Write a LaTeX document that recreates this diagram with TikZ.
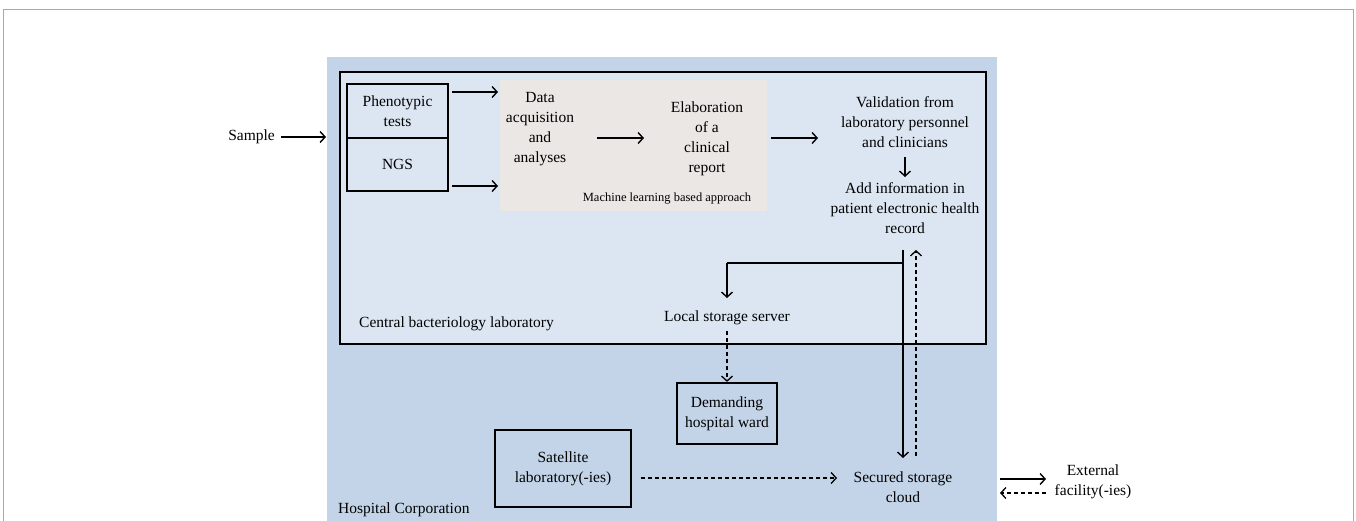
\documentclass[tikz,border=0pt]{standalone}
\usepackage{fontspec}
\setmainfont{Liberation Serif}
\usetikzlibrary{arrows.meta}
\definecolor{hospblue}{HTML}{C3D4E8}
\definecolor{labblue}{HTML}{DCE6F2}
\definecolor{mlgray}{HTML}{EBE7E4}
\definecolor{framegray}{HTML}{A8A8A8}
\begin{document}
\begin{tikzpicture}[x=1pt,y=-1pt,
  font=\fontsize{15.5}{20}\selectfont,
  arr/.style={-{Straight Barb[length=5pt,width=11pt,line width=1.4pt]}, line width=1.4pt},
  darr/.style={-{Straight Barb[length=5pt,width=11pt,line width=1.3pt]}, line width=1.2pt, dash pattern=on 4pt off 3pt},
  txt/.style={align=center, inner sep=0pt},
  thickbox/.style={draw, line width=2.2pt, inner sep=0pt, align=center}]
\useasboundingbox (0,0) rectangle (1356,521);
% outer frame
\draw[framegray, line width=1pt] (3,521) -- (3,10) -- (1353,10) -- (1353,521);
% hospital corporation area
\fill[hospblue] (327,57) rectangle (997,521);
\node[txt, anchor=west] (hosp) at (338,510) {Hospital Corporation};
% central lab
\node[thickbox, fill=labblue, minimum width=646pt, minimum height=272pt] (lab) at (663,208) {};
\node[txt, anchor=west] (central) at (359,324) {Central bacteriology laboratory};
% ML box
\node[fill=mlgray, inner sep=0pt, minimum width=267pt, minimum height=131pt] (ml) at (633.5,145.5) {};
\node[txt, font=\fontsize{12.5}{15}\selectfont] (mltxt) at (667,199) {Machine learning based approach};
% phenotypic and NGS
\node[thickbox, minimum width=101pt, minimum height=54pt] (pheno) at (397.5,111) {Phenotypic\\tests};
\node[thickbox, minimum width=101pt, minimum height=53pt] (ngs) at (397.5,164.5) {NGS};
% sample
\node[txt, anchor=east] (sample) at (275,137) {Sample};
\coordinate (labin) at (326,137);
\draw[arr] (sample.east) ++(6pt,0) -- (labin);
% arrows into ML
\coordinate (p1) at (452,92);
\coordinate (p2) at (498,92);
\coordinate (n1) at (452,186);
\coordinate (n2) at (498,186);
\draw[arr] (p1) -- (p2);
\draw[arr] (n1) -- (n2);
% texts in ML
\node[txt] (data) at (540,129) {Data\\acquisition\\and\\analyses};
\node[txt] (elab) at (707,139) {Elaboration\\of a\\clinical\\report};
\coordinate (a1) at (597,138);
\coordinate (a2) at (644,138);
\draw[arr] (a1) -- (a2);
\coordinate (b1) at (771,138);
\coordinate (b2) at (818,138);
\draw[arr] (b1) -- (b2);
% validation
\node[txt] (valid) at (905,122) {Validation from\\laboratory personnel\\and clinicians};
\node[txt] (ehr) at (905,208) {Add information in\\patient electronic health\\record};
\coordinate (v1) at (905,157);
\coordinate (v2) at (905,177);
\draw[arr] (v1) -- (v2);
% local storage
\node[txt] (lss) at (727,318) {Local storage server};
\coordinate (ehrbot) at (903,250);
\coordinate (branch) at (903,263);
\coordinate (lsstop) at (727,298);
\draw[line width=1.4pt] (branch) -- (727,263);
\draw[arr] (727,263) -- (lsstop);
% demanding ward
\node[thickbox, minimum width=100pt, minimum height=61pt] (ward) at (727,413.5) {Demanding\\hospital ward};
\coordinate (lssbot) at (727,331);
\draw[darr] (lssbot) -- (ward.north);
% cloud
\node[txt] (cloud) at (903,487) {Secured storage\\cloud};
\coordinate (cloudtop) at (903,458);
\draw[arr] (ehrbot) -- (cloudtop);
\coordinate (up1) at (916,456);
\coordinate (up2) at (916,250);
\draw[darr] (up1) -- (up2);
% satellite
\node[thickbox, minimum width=136pt, minimum height=77pt] (sat) at (563,468.5) {Satellite\\laboratory(-ies)};
\coordinate (s1) at (641,478);
\coordinate (s2) at (837,478);
\draw[darr] (s1) -- (s2);
% external
\node[txt] (ext) at (1093,482) {External\\facility(-ies)};
\coordinate (e1) at (1000,479);
\coordinate (e2) at (1046,479);
\coordinate (e3) at (1046,493);
\coordinate (e4) at (1000,493);
\draw[arr] (e1) -- (e2);
\draw[darr] (e3) -- (e4);
\end{tikzpicture}
\end{document}
